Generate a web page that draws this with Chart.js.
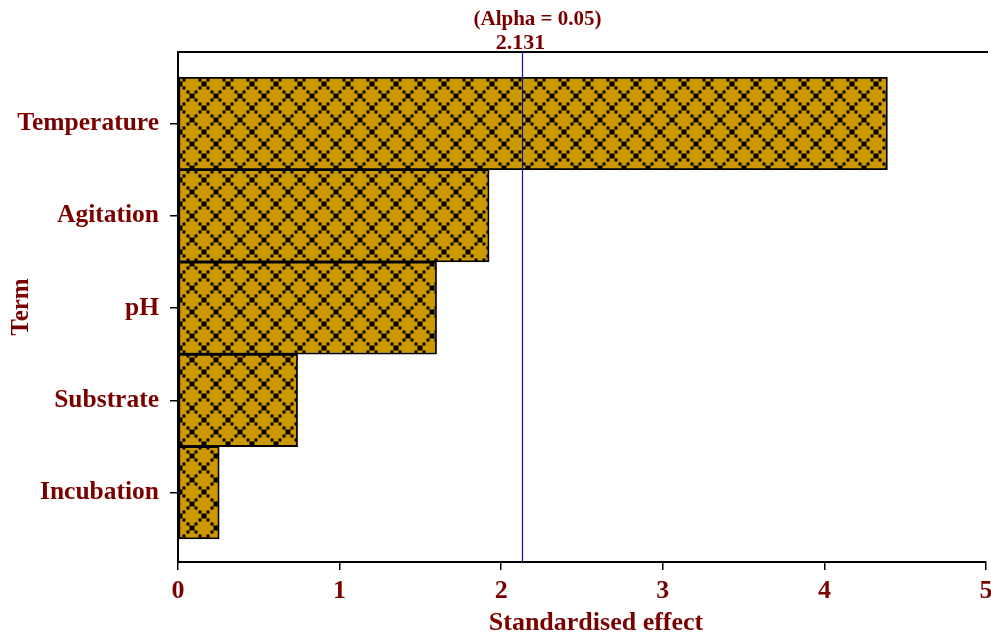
<!DOCTYPE html>
<html>
<head>
<meta charset="utf-8">
<script src="https://cdn.jsdelivr.net/npm/chart.js@4/dist/chart.umd.min.js"></script>
<style>
  html, body { margin: 0; padding: 0; background: #fff; }
  #wrap { width: 991px; height: 637px; }
</style>
</head>
<body>
<div id="wrap"><canvas id="pareto"></canvas></div>
<script>
const terms = ["Temperature", "Agitation", "pH", "Substrate", "Incubation"];
const effects = [4.39, 1.925, 1.60, 0.74, 0.255];
const xTicks = [0, 1, 2, 3, 4, 5];
const alphaLabel = "(Alpha = 0.05)";
const critical = 2.131;
const xTitle = "Standardised effect";

const textRed = "#7a0000";
const gold = "#cc9900";

// gold fill with the black lattice hatch
function makeHatch() {
  const s = 24;
  const c = document.createElement("canvas");
  c.width = s; c.height = s;
  const g = c.getContext("2d");
  g.fillStyle = gold;
  g.fillRect(0, 0, s, s);
  g.fillStyle = "#000";
  const dot = (x, y, w) => {
    [-s, 0, s].forEach(dx => [-s, 0, s].forEach(dy => g.fillRect(x + dx - w / 2, y + dy - w / 2, w, w)));
  };
  [[0, 0], [12, 12]].forEach(([x, y]) => dot(x, y, 5));
  [[4, 4], [8, 8], [16, 16], [20, 20], [20, 4], [16, 8], [8, 16], [4, 20]].forEach(([x, y]) => dot(x, y, 3));
  return g.createPattern(c, "repeat");
}

const extras = {
  id: "extras",
  afterDraw(chart) {
    const { ctx, chartArea } = chart;
    const xs = chart.scales.x;
    ctx.save();
    // top frame line
    ctx.strokeStyle = "#000";
    ctx.lineWidth = 2;
    ctx.beginPath();
    ctx.moveTo(chartArea.left, chartArea.top);
    ctx.lineTo(chartArea.right + 2, chartArea.top);
    ctx.stroke();
    // critical value line
    const px = Math.round(xs.getPixelForValue(critical)) + 0.5;
    ctx.strokeStyle = "#1010a0";
    ctx.lineWidth = 1.2;
    ctx.beginPath();
    ctx.moveTo(px, chartArea.top);
    ctx.lineTo(px, chartArea.bottom);
    ctx.stroke();
    ctx.fillStyle = textRed;
    ctx.textAlign = "center";
    ctx.textBaseline = "alphabetic";
    ctx.font = "bold 21px 'Liberation Serif'";
    ctx.fillText(alphaLabel, px + 15, 25);
    ctx.font = "bold 22px 'Liberation Serif'";
    ctx.fillText(critical.toFixed(3), px - 2, 49);
    // x axis title (sits a bit right of centre in the original)
    ctx.font = "bold 26px 'Liberation Serif'";
    ctx.fillText(xTitle, (chartArea.left + chartArea.right) / 2 + 14, 630);
    ctx.restore();
  }
};

new Chart(document.getElementById("pareto"), {
  type: "bar",
  data: {
    datasets: [{
      data: effects.map((v, i) => ({ x: v, y: i })),
      backgroundColor: makeHatch(),
      borderColor: "#000",
      borderWidth: 1.8,
      borderSkipped: false,
      categoryPercentage: 1,
      barPercentage: 1,
    }],
  },
  options: {
    indexAxis: "y",
    responsive: true,
    maintainAspectRatio: false,
    animation: false,
    layout: { padding: { top: 52, right: 5, left: 0, bottom: 0 } },
    plugins: { legend: { display: false }, tooltip: { enabled: false } },
    scales: {
      x: {
        type: "linear",
        min: 0,
        max: 5,
        afterBuildTicks: s => { s.ticks = xTicks.map(v => ({ value: v })); },
        afterFit: s => { s.height = 75; s.paddingRight = 0; s.paddingLeft = 0; },
        grid: { drawOnChartArea: false, drawTicks: true, tickLength: 8, color: "#000", lineWidth: 1.5 },
        border: { display: true, color: "#000", width: 2 },
        ticks: {
          color: textRed,
          padding: 6,
          maxRotation: 0,
          font: { family: "'Liberation Serif'", size: 26, weight: "bold" },
        },
      },
      y: {
        type: "linear",
        reverse: true,
        offset: false,
        min: -0.774,
        max: 4.75,
        afterBuildTicks: s => { s.ticks = terms.map((t, i) => ({ value: i })); },
        afterFit: s => { s.width = 178; },
        grid: { offset: false, drawOnChartArea: false, drawTicks: true, tickLength: 8, color: "#000", lineWidth: 1.5 },
        border: { display: true, color: "#000", width: 2 },
        ticks: {
          color: textRed,
          padding: 11,
          callback: v => terms[v],
          font: { family: "'Liberation Serif'", size: 25.5, weight: "bold" },
        },
        title: {
          display: true,
          text: "Term",
          color: textRed,
          padding: { top: 7, bottom: 0 },
          font: { family: "'Liberation Serif'", size: 25, weight: "bold" },
        },
      },
    },
  },
  plugins: [extras],
});
</script>
</body>
</html>
